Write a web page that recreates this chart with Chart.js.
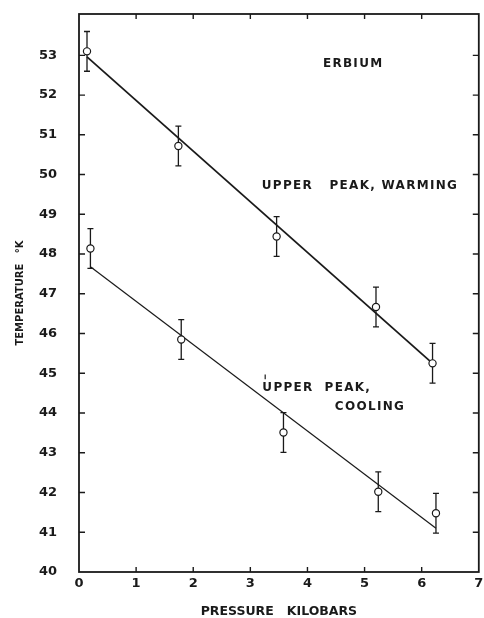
<!DOCTYPE html>
<html>
<head>
<meta charset="utf-8">
<script src="https://cdn.jsdelivr.net/npm/chart.js@4"></script>
<style>
  body { margin: 0; background: #fff; }
</style>
</head>
<body>
<canvas id="erbiumChart" width="484" height="618"></canvas>
<script>
// Upper peak, warming: pressure (kbar), temperature (K), error half-height
const warmP = [0.14, 1.74, 3.46, 5.20, 6.19];
const warmT = [53.10, 50.72, 48.44, 46.67, 45.25];
const warmErr = [0.5, 0.5, 0.5, 0.5, 0.5];

// Upper peak, cooling
const coolP = [0.20, 1.79, 3.58, 5.24, 6.25];
const coolT = [48.14, 45.85, 43.51, 42.02, 41.48];
const coolErr = [0.5, 0.5, 0.5, 0.5, 0.5];

// Straight line fits (end points)
const warmFitP = [0.14, 6.19];
const warmFitT = [52.96, 45.25];
const coolFitP = [0.20, 6.25];
const coolFitT = [47.68, 41.10];

// Axis ticks
const xTicks = [0, 1, 2, 3, 4, 5, 6, 7];
const yTicks = [40, 41, 42, 43, 44, 45, 46, 47, 48, 49, 50, 51, 52, 53];

// Text written on the plot, placed in data units
const notes = [
  { text: 'ERBIUM', x: 4.80, y: 52.79, align: 'center' },
  { text: 'UPPER   PEAK, WARMING', x: 3.20, y: 49.71, align: 'left' },
  { text: 'UPPER  PEAK,', x: 3.21, y: 44.64, align: 'left' },
  { text: 'COOLING', x: 4.48, y: 44.16, align: 'left' },
];

const ink = '#1a1a1a';
const toPoints = (xs, ys) => xs.map((x, i) => ({ x: x, y: ys[i] }));

const ctx = document.getElementById('erbiumChart').getContext('2d');

// error bars, frame, inward ticks and notes
const paperPlugin = {
  id: 'paper',
  beforeDatasetsDraw(chart) {
    const c = chart.ctx;
    const ys = chart.scales.y;
    c.save();
    c.strokeStyle = ink;
    c.lineWidth = 1.3;
    chart.data.datasets.forEach((ds, i) => {
      if (!ds.errors) return;
      const meta = chart.getDatasetMeta(i);
      meta.data.forEach((pt, j) => {
        const v = ds.data[j].y;
        const top = ys.getPixelForValue(v + ds.errors[j]);
        const bot = ys.getPixelForValue(v - ds.errors[j]);
        c.beginPath();
        c.moveTo(pt.x, top); c.lineTo(pt.x, bot);
        c.moveTo(pt.x - 3, top); c.lineTo(pt.x + 3, top);
        c.moveTo(pt.x - 3, bot); c.lineTo(pt.x + 3, bot);
        c.stroke();
      });
    });
    c.restore();
  },
  afterDraw(chart) {
    const c = chart.ctx;
    const a = chart.chartArea;
    const xs = chart.scales.x;
    const ys = chart.scales.y;
    c.save();
    c.strokeStyle = ink;
    c.lineWidth = 1.8;
    c.strokeRect(a.left, a.top, a.right - a.left, a.bottom - a.top);

    c.lineWidth = 1.4;
    c.beginPath();
    xTicks.forEach(v => {
      if (v === 0 || v === 7) return;
      const px = xs.getPixelForValue(v);
      c.moveTo(px, a.bottom); c.lineTo(px, a.bottom - 5);
      c.moveTo(px, a.top); c.lineTo(px, a.top + 5);
    });
    yTicks.forEach(v => {
      if (v === 40) return;
      const py = ys.getPixelForValue(v);
      c.moveTo(a.left, py); c.lineTo(a.left + 6, py);
      c.moveTo(a.right, py); c.lineTo(a.right - 6, py);
    });
    c.stroke();

    c.fillStyle = ink;
    c.font = 'bold 12px "DejaVu Sans"';
    c.letterSpacing = '1.3px';
    c.textBaseline = 'middle';
    notes.forEach(n => {
      c.textAlign = n.align;
      c.fillText(n.text, xs.getPixelForValue(n.x), ys.getPixelForValue(n.y));
    });

    // small stray mark above the cooling label
    c.lineWidth = 1.2;
    c.beginPath();
    c.moveTo(xs.getPixelForValue(3.26), ys.getPixelForValue(44.97));
    c.lineTo(xs.getPixelForValue(3.26), ys.getPixelForValue(44.85));
    c.stroke();
    c.restore();
  }
};

const pointStyle = {
  showLine: false,
  pointRadius: 3.6,
  pointBackgroundColor: '#fff',
  pointBorderColor: ink,
  pointBorderWidth: 1.2,
  order: 0,
};

const erbiumChart = new Chart(ctx, {
  type: 'scatter',
  data: {
    datasets: [
      Object.assign({ label: 'Warming', data: toPoints(warmP, warmT), errors: warmErr }, pointStyle),
      Object.assign({ label: 'Cooling', data: toPoints(coolP, coolT), errors: coolErr }, pointStyle),
      {
        label: 'Warming fit',
        data: toPoints(warmFitP, warmFitT),
        showLine: true,
        borderColor: ink,
        borderWidth: 1.8,
        pointRadius: 0,
        order: 1,
      },
      {
        label: 'Cooling fit',
        data: toPoints(coolFitP, coolFitT),
        showLine: true,
        borderColor: ink,
        borderWidth: 1.2,
        pointRadius: 0,
        order: 1,
      },
    ],
  },
  options: {
    responsive: false,
    animation: false,
    layout: { padding: { top: 14, right: 3, left: 0, bottom: 0 } },
    plugins: {
      legend: { display: false },
      tooltip: { enabled: false },
    },
    scales: {
      x: {
        type: 'linear',
        min: 0,
        max: 7,
        afterFit: s => { s.height = 46; s.paddingLeft = 0; s.paddingRight = 0; },
        afterBuildTicks: s => { s.ticks = xTicks.map(v => ({ value: v })); },
        grid: { display: false, drawTicks: false },
        border: { display: false },
        ticks: {
          color: ink,
          padding: 4,
          maxRotation: 0,
          font: { family: 'DejaVu Sans', weight: 'bold', size: 13 },
        },
        title: {
          display: true,
          text: 'PRESSURE   KILOBARS',
          color: ink,
          padding: { top: 0, bottom: 0 },
          font: { family: 'DejaVu Sans', weight: 'bold', size: 12.5, lineHeight: 1 },
        },
      },
      y: {
        min: 40,
        max: 54.04,
        afterFit: s => { s.width = 79; s.paddingTop = 0; s.paddingBottom = 0; },
        afterBuildTicks: s => { s.ticks = yTicks.map(v => ({ value: v })); },
        grid: { display: false, drawTicks: false },
        border: { display: false },
        ticks: {
          color: ink,
          padding: 22,
          font: { family: 'DejaVu Sans', weight: 'bold', size: 13 },
        },
        title: {
          display: true,
          text: 'TEMPERATURE   °K',
          color: ink,
          padding: { top: 14, bottom: 0 },
          font: { family: 'DejaVu Sans', weight: 'bold', size: 10 },
        },
      },
    },
  },
  plugins: [paperPlugin],
});
</script>
</body>
</html>
